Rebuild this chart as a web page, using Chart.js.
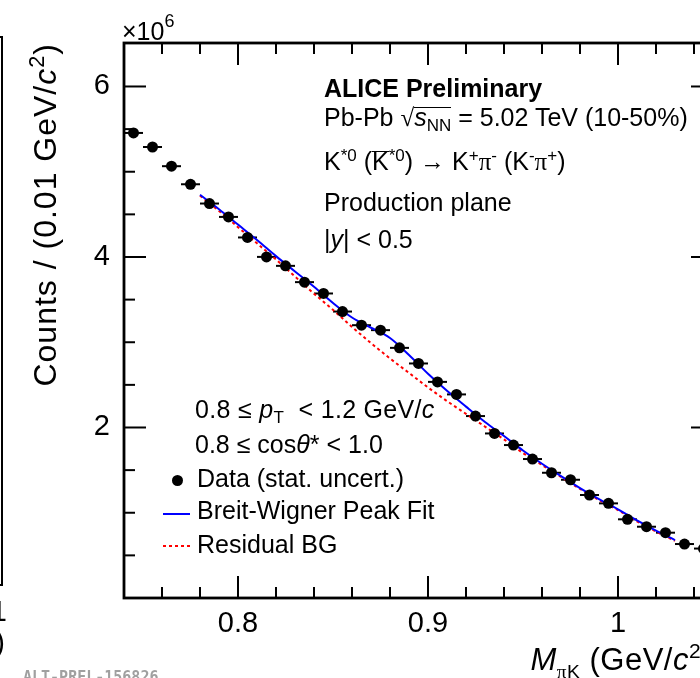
<!DOCTYPE html>
<html>
<head>
<meta charset="utf-8">
<script src="https://cdn.jsdelivr.net/npm/chart.js@4.4.0/dist/chart.umd.min.js"></script>
<style>
html, body { margin: 0; padding: 0; background: #fff; overflow: hidden; }
#wrap { position: relative; width: 700px; height: 678px; overflow: hidden;
        font-family: "Liberation Sans", Arial, sans-serif; color: #000; }
#wrap canvas { position: absolute; left: 0; top: 0; }
.t { position: absolute; white-space: nowrap; line-height: 1; }
.sub { font-size: 0.68em; position: relative; top: 0.32em; }
.sup { font-size: 0.68em; position: relative; top: -0.55em; }
.sym { font-family: "Liberation Serif", "DejaVu Serif", serif; }
.ovl { position: relative; }
.ovl::before { content: ""; position: absolute; left: 0; right: 0; top: 4px; border-top: 1.5px solid #000; }
</style>
</head>
<body>
<div id="wrap">
  <canvas id="massPlot" width="760" height="678"></canvas>

  <!-- bout du panneau voisin -->
  <div style="position:absolute;left:-20px;top:36px;width:23px;height:550px;border:2.5px solid #000;box-sizing:border-box"></div>
  <div class="t" style="left:-93px;top:597px;width:100px;text-align:right;font-size:29px">1</div>
  <div class="t" style="left:-95px;top:628px;width:100px;text-align:right;font-size:29px">)</div>

  <div class="t" style="left:122px;top:19px;font-size:25px">×10<span style="font-size:0.72em;position:relative;top:-0.7em">6</span></div>

  <!-- titres des axes -->
  <div class="t" style="left:29px;top:563px;width:520px;text-align:right;font-size:32px;letter-spacing:1px;transform-origin:0 0;transform:rotate(-90deg)">Counts / (0.01 GeV/<i>c</i><span class="sup">2</span>)</div>
  <div class="t" style="left:212px;top:644px;width:500px;text-align:right;font-size:31px;letter-spacing:0.5px"><i>M</i><span class="sub" style="font-size:0.62em;top:0.4em"><span class="sym">π</span>K</span> (GeV/<i>c</i><span class="sup">2</span>)</div>

  <!-- texte en haut a droite -->
  <div class="t" style="left:324px;top:76px;font-size:25px;font-weight:bold">ALICE Preliminary</div>
  <div class="t" style="left:324px;top:105px;font-size:25px">Pb-Pb <span class="sym">√</span><span class="ovl"><i>s</i><span class="sub">NN</span></span> = 5.02 TeV (10-50%)</div>
  <div class="t" style="left:324px;top:149px;font-size:25px">K<span class="sup">*0</span> (<span class="ovl">K</span><span class="sup">*0</span>) <span class="sym">→</span> K<span class="sup">+</span><span class="sym">π</span><span class="sup">-</span> (K<span class="sup">-</span><span class="sym">π</span><span class="sup">+</span>)</div>
  <div class="t" style="left:324px;top:190px;font-size:25px">Production plane</div>
  <div class="t" style="left:324px;top:227px;font-size:25px">|<i>y</i>| &lt; 0.5</div>

  <!-- legende -->
  <div class="t" style="left:195px;top:397px;font-size:25px;letter-spacing:0.3px">0.8 ≤ <i>p</i><span class="sub">T</span>&nbsp; &lt; 1.2 GeV/<i>c</i></div>
  <div class="t" style="left:195px;top:432px;font-size:25px">0.8 ≤ cos<i>θ</i>* &lt; 1.0</div>
  <div style="position:absolute;left:172px;top:475px;width:11px;height:11px;border-radius:50%;background:#000"></div>
  <div class="t" style="left:197px;top:466px;font-size:25px">Data (stat. uncert.)</div>
  <div style="position:absolute;left:163px;top:513px;width:27px;height:2px;background:#0000ff"></div>
  <div class="t" style="left:197px;top:498px;font-size:25px">Breit-Wigner Peak Fit</div>
  <div style="position:absolute;left:163px;top:545px;width:27px;height:2px;background:repeating-linear-gradient(to right,#ff0000 0 3px,transparent 3px 6px)"></div>
  <div class="t" style="left:197px;top:532px;font-size:25px">Residual BG</div>

  <div class="t" style="left:23px;top:670px;font-size:15px;font-weight:bold;color:#a0a0a0;font-family:'DejaVu Sans Mono',monospace">ALT-PREL-156826</div>
</div>

<script>
// donnees (comptes en unites de 10^6)
const massBins = [0.745, 0.755, 0.765, 0.775, 0.785, 0.795, 0.805, 0.815, 0.825, 0.835,
                  0.845, 0.855, 0.865, 0.875, 0.885, 0.895, 0.905, 0.915, 0.925, 0.935,
                  0.945, 0.955, 0.965, 0.975, 0.985, 0.995, 1.005, 1.015, 1.025, 1.035, 1.045];
const counts = [5.455, 5.29, 5.065, 4.853, 4.627, 4.47, 4.229, 4.001, 3.896, 3.705,
                3.572, 3.36, 3.20, 3.142, 2.934, 2.751, 2.535, 2.388, 2.134, 1.93,
                1.794, 1.63, 1.469, 1.387, 1.208, 1.110, 0.923, 0.836, 0.766, 0.633, 0.58];
const binHalf = 0.005;

const fitMass = [0.78, 0.79, 0.80, 0.81, 0.82, 0.83, 0.84, 0.85, 0.86, 0.87, 0.88, 0.89, 0.90,
                 0.91, 0.92, 0.93, 0.94, 0.95, 0.96, 0.97, 0.98, 0.99, 1.00, 1.01, 1.02, 1.03];
const fitPeak = [4.73, 4.56, 4.38, 4.20, 4.01, 3.83, 3.65, 3.46, 3.29, 3.17, 3.05, 2.85, 2.63,
                 2.43, 2.245, 2.065, 1.90, 1.73, 1.575, 1.43, 1.29, 1.16, 1.04, 0.91, 0.79, 0.68];
const fitBg = [4.72, 4.54, 4.35, 4.16, 3.97, 3.77, 3.57, 3.38, 3.18, 2.99, 2.81, 2.64, 2.47,
               2.31, 2.16, 2.01, 1.86, 1.70, 1.56, 1.42, 1.28, 1.15, 1.03, 0.90, 0.78, 0.67];

const xMajor = [0.8, 0.9, 1.0];
const xTickLabels = ['0.8', '0.9', '1'];
const yMajor = [2, 4, 6];
const yTickLabels = ['2', '4', '6'];

Chart.defaults.font.family = "'Liberation Sans', Arial, sans-serif";
Chart.defaults.color = '#000';

// cadre et graduations a la ROOT (vers l'interieur) + barres d'erreur en x
const rootFrame = {
    id: 'rootFrame',
    beforeDatasetsDraw(chart) {
        const { ctx, scales: { x, y } } = chart;
        ctx.save();
        ctx.strokeStyle = '#000';
        ctx.lineWidth = 2;
        massBins.forEach((m, i) => {
            const py = y.getPixelForValue(counts[i]);
            ctx.beginPath();
            ctx.moveTo(x.getPixelForValue(m - binHalf), py);
            ctx.lineTo(x.getPixelForValue(m + binHalf), py);
            ctx.stroke();
        });
        ctx.restore();
    },
    afterDraw(chart) {
        const { ctx, chartArea: a, scales: { x, y } } = chart;
        ctx.save();
        ctx.strokeStyle = '#000';
        ctx.lineWidth = 2.8;
        ctx.strokeRect(a.left, a.top, a.right - a.left, a.bottom - a.top);
        ctx.lineWidth = 2;
        const tick = (x1, y1, x2, y2) => { ctx.beginPath(); ctx.moveTo(x1, y1); ctx.lineTo(x2, y2); ctx.stroke(); };
        for (let k = 0; k <= 15; k++) {
            const v = 0.74 + k * 0.02;
            const big = xMajor.some(m => Math.abs(m - v) < 1e-6);
            const len = big ? 22 : 11;
            const px = x.getPixelForValue(v);
            if (px <= a.left + 1 || px >= a.right - 1) continue;
            tick(px, a.bottom, px, a.bottom - len);
            tick(px, a.top, px, a.top + len);
        }
        for (let k = 1; k <= 13; k++) {
            const v = k * 0.5;
            const big = yMajor.includes(v);
            const len = big ? 22 : 11;
            const py = y.getPixelForValue(v);
            if (py <= a.top + 1) continue;
            tick(a.left, py, a.left + len, py);
            tick(a.right, py, a.right - len, py);
        }
        ctx.restore();
    }
};

const ctx = document.getElementById('massPlot').getContext('2d');
new Chart(ctx, {
    type: 'scatter',
    data: {
        datasets: [{
            label: 'Data (stat. uncert.)',
            data: massBins.map((m, i) => ({ x: m, y: counts[i] })),
            pointRadius: 5.5,
            pointBackgroundColor: '#000',
            pointBorderWidth: 0,
            showLine: false,
            order: 0
        }, {
            label: 'Breit-Wigner Peak Fit',
            data: fitMass.map((m, i) => ({ x: m, y: fitPeak[i] })),
            showLine: true,
            borderColor: '#0000ff',
            borderWidth: 2,
            pointRadius: 0,
            cubicInterpolationMode: 'monotone',
            order: 1
        }, {
            label: 'Residual BG',
            data: fitMass.map((m, i) => ({ x: m, y: fitBg[i] })),
            showLine: true,
            borderColor: '#ff0000',
            borderWidth: 2,
            borderDash: [3, 3],
            pointRadius: 0,
            cubicInterpolationMode: 'monotone',
            order: 2
        }]
    },
    options: {
        responsive: false,
        animation: false,
        layout: { padding: { left: 0, top: 43, right: 47, bottom: 0 } },
        plugins: { legend: { display: false }, tooltip: { enabled: false } },
        scales: {
            x: {
                type: 'linear', min: 0.74, max: 1.05,
                grid: { display: false, drawTicks: false },
                border: { display: false },
                afterBuildTicks: s => { s.ticks = xMajor.map(v => ({ value: v })); },
                afterFit: s => { s.height = 80; },
                ticks: { padding: 9, font: { size: 29 }, color: '#000', maxRotation: 0,
                         callback: (v, i) => xTickLabels[i] }
            },
            y: {
                type: 'linear', min: 0, max: 6.51,
                grid: { display: false, drawTicks: false },
                border: { display: false },
                afterBuildTicks: s => { s.ticks = yMajor.map(v => ({ value: v })); },
                afterFit: s => { s.width = 124; },
                ticks: { padding: 14, font: { size: 29 }, color: '#000',
                         callback: (v, i) => yTickLabels[i] }
            }
        }
    },
    plugins: [rootFrame]
});
</script>
</body>
</html>
